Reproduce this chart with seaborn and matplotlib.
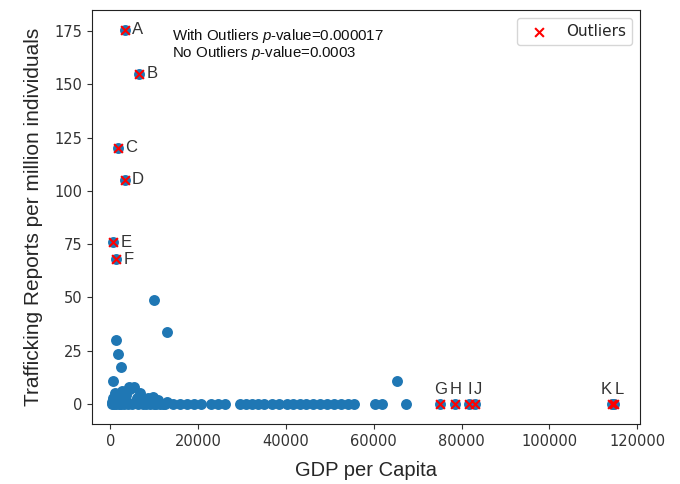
import numpy as np
import pandas as pd
import matplotlib
matplotlib.use('Agg')
import matplotlib.pyplot as plt
import seaborn as sns

# Non-outlier countries: GDP per capita and trafficking reports per million
gdp_main = [
    300, 500, 600, 800, 900, 1000, 1100, 1200, 1300, 1500, 1700, 1900, 2000,
    2200, 2400, 2600, 2800, 3000, 3200, 3500, 3800, 4000, 4200, 4600, 5000,
    5300, 5600, 6000, 6300, 6700, 7000, 7400, 7800, 8200, 8600, 9000, 9500,
    9800, 9900, 10400, 10900, 11400, 12000, 12500, 13000,
    1360, 1660, 2430, 600, 10000, 13000,
    14300, 15900, 17500, 19100, 20700, 23000, 24500, 26100, 29500, 30900,
    32300, 33600, 35000, 36800, 38400, 40200, 41600, 43200, 44500, 46100,
    47700, 49300, 50900, 52500, 54100, 55500, 60200, 61800, 67300, 65200,
]
reports_main = [
    0, 1, 3, 2, 0, 5, 1, 4, 0, 2, 4, 0, 1,
    3, 0, 6, 1, 2, 0, 4, 1, 0, 8, 7, 0,
    8, 1, 3, 0, 5, 2, 0, 1, 0, 3, 0, 1,
    3.4, 0, 0, 2, 0, 0, 0, 1,
    30, 23.5, 17.5, 10.8, 49, 34,
    0, 0, 0, 0, 0, 0, 0, 0, 0, 0,
    0, 0, 0, 0, 0, 0, 0, 0, 0, 0,
    0, 0, 0, 0, 0, 0, 0, 0, 0, 11,
]

# Outlier countries
out_labels = ['A', 'B', 'C', 'D', 'E', 'F', 'G', 'H', 'I', 'J', 'K', 'L']
out_gdp = [3400, 6600, 1800, 3400, 700, 1400,
           75200, 78600, 81800, 83000, 114300, 114700]
out_reports = [175.5, 155, 120.3, 105.3, 75.8, 67.8,
               0, 0, 0, 0, 0, 0]

# label placement (offset points, horizontal alignment)
label_pos = {
    'A': (5, 0, 'left'), 'B': (5, 0, 'left'), 'C': (5, 0, 'left'),
    'D': (5, 0, 'left'), 'E': (5, 0, 'left'), 'F': (5, 0, 'left'),
    'G': (0, 5, 'center'), 'H': (0, 5, 'center'), 'I': (0, 5, 'center'),
    'J': (2, 5, 'center'), 'K': (-4, 5, 'center'), 'L': (4, 5, 'center'),
}

sns.set_style('ticks')
plt.rcParams['font.family'] = ['DejaVu Sans']
plt.rcParams['mathtext.fontset'] = 'custom'
plt.rcParams['mathtext.rm'] = 'Liberation Sans'
plt.rcParams['mathtext.it'] = 'Liberation Sans:italic'

main_df = pd.DataFrame({'gdp': gdp_main + out_gdp,
                        'reports': reports_main + out_reports})
out_df = pd.DataFrame({'gdp': out_gdp, 'reports': out_reports, 'label': out_labels})

fig = plt.figure(figsize=(6.8, 4.84), dpi=100)
ax = fig.add_axes([0.135, 0.124, 0.806, 0.855])

sns.scatterplot(data=main_df, x='gdp', y='reports', ax=ax,
                color='#1f77b4', s=62, linewidth=0, zorder=2)
sns.scatterplot(data=out_df, x='gdp', y='reports', ax=ax,
                color='red', marker='x', s=40, linewidth=1.5,
                label='Outliers', zorder=3)

for _, row in out_df.iterrows():
    dx, dy, ha = label_pos[row['label']]
    va = 'center' if dy == 0 else 'bottom'
    ax.annotate(row['label'], (row['gdp'], row['reports']),
                xytext=(dx, dy), textcoords='offset points',
                ha=ha, va=va, fontsize=12, color='#333333',
                family='Liberation Sans')

ax.text(0.146, 0.96,
        'With Outliers $p$-value=0.000017\nNo Outliers $p$-value=0.0003',
        transform=ax.transAxes, ha='left', va='top', fontsize=10.8,
        family='Liberation Sans', color='#111111', linespacing=0.98)

ax.set_xlim(-4200, 120600)
ax.set_ylim(-9.4, 184.8)
ax.set_xticks([0, 20000, 40000, 60000, 80000, 100000, 120000])
ax.set_yticks([0, 25, 50, 75, 100, 125, 150, 175])
ax.tick_params(labelsize=10.5, labelcolor='#333333', color='#333333')
for sp in ax.spines.values():
    sp.set_color('#222222')
    sp.set_visible(True)

ax.set_xlabel('GDP per Capita', fontsize=14.5, family='Liberation Sans',
              labelpad=9)
ax.set_ylabel('Trafficking Reports per million individuals', fontsize=15,
              family='Liberation Sans', labelpad=8)

ax.legend(loc='upper right', fontsize=11, frameon=True)

fig.savefig('out.png', dpi=100)
